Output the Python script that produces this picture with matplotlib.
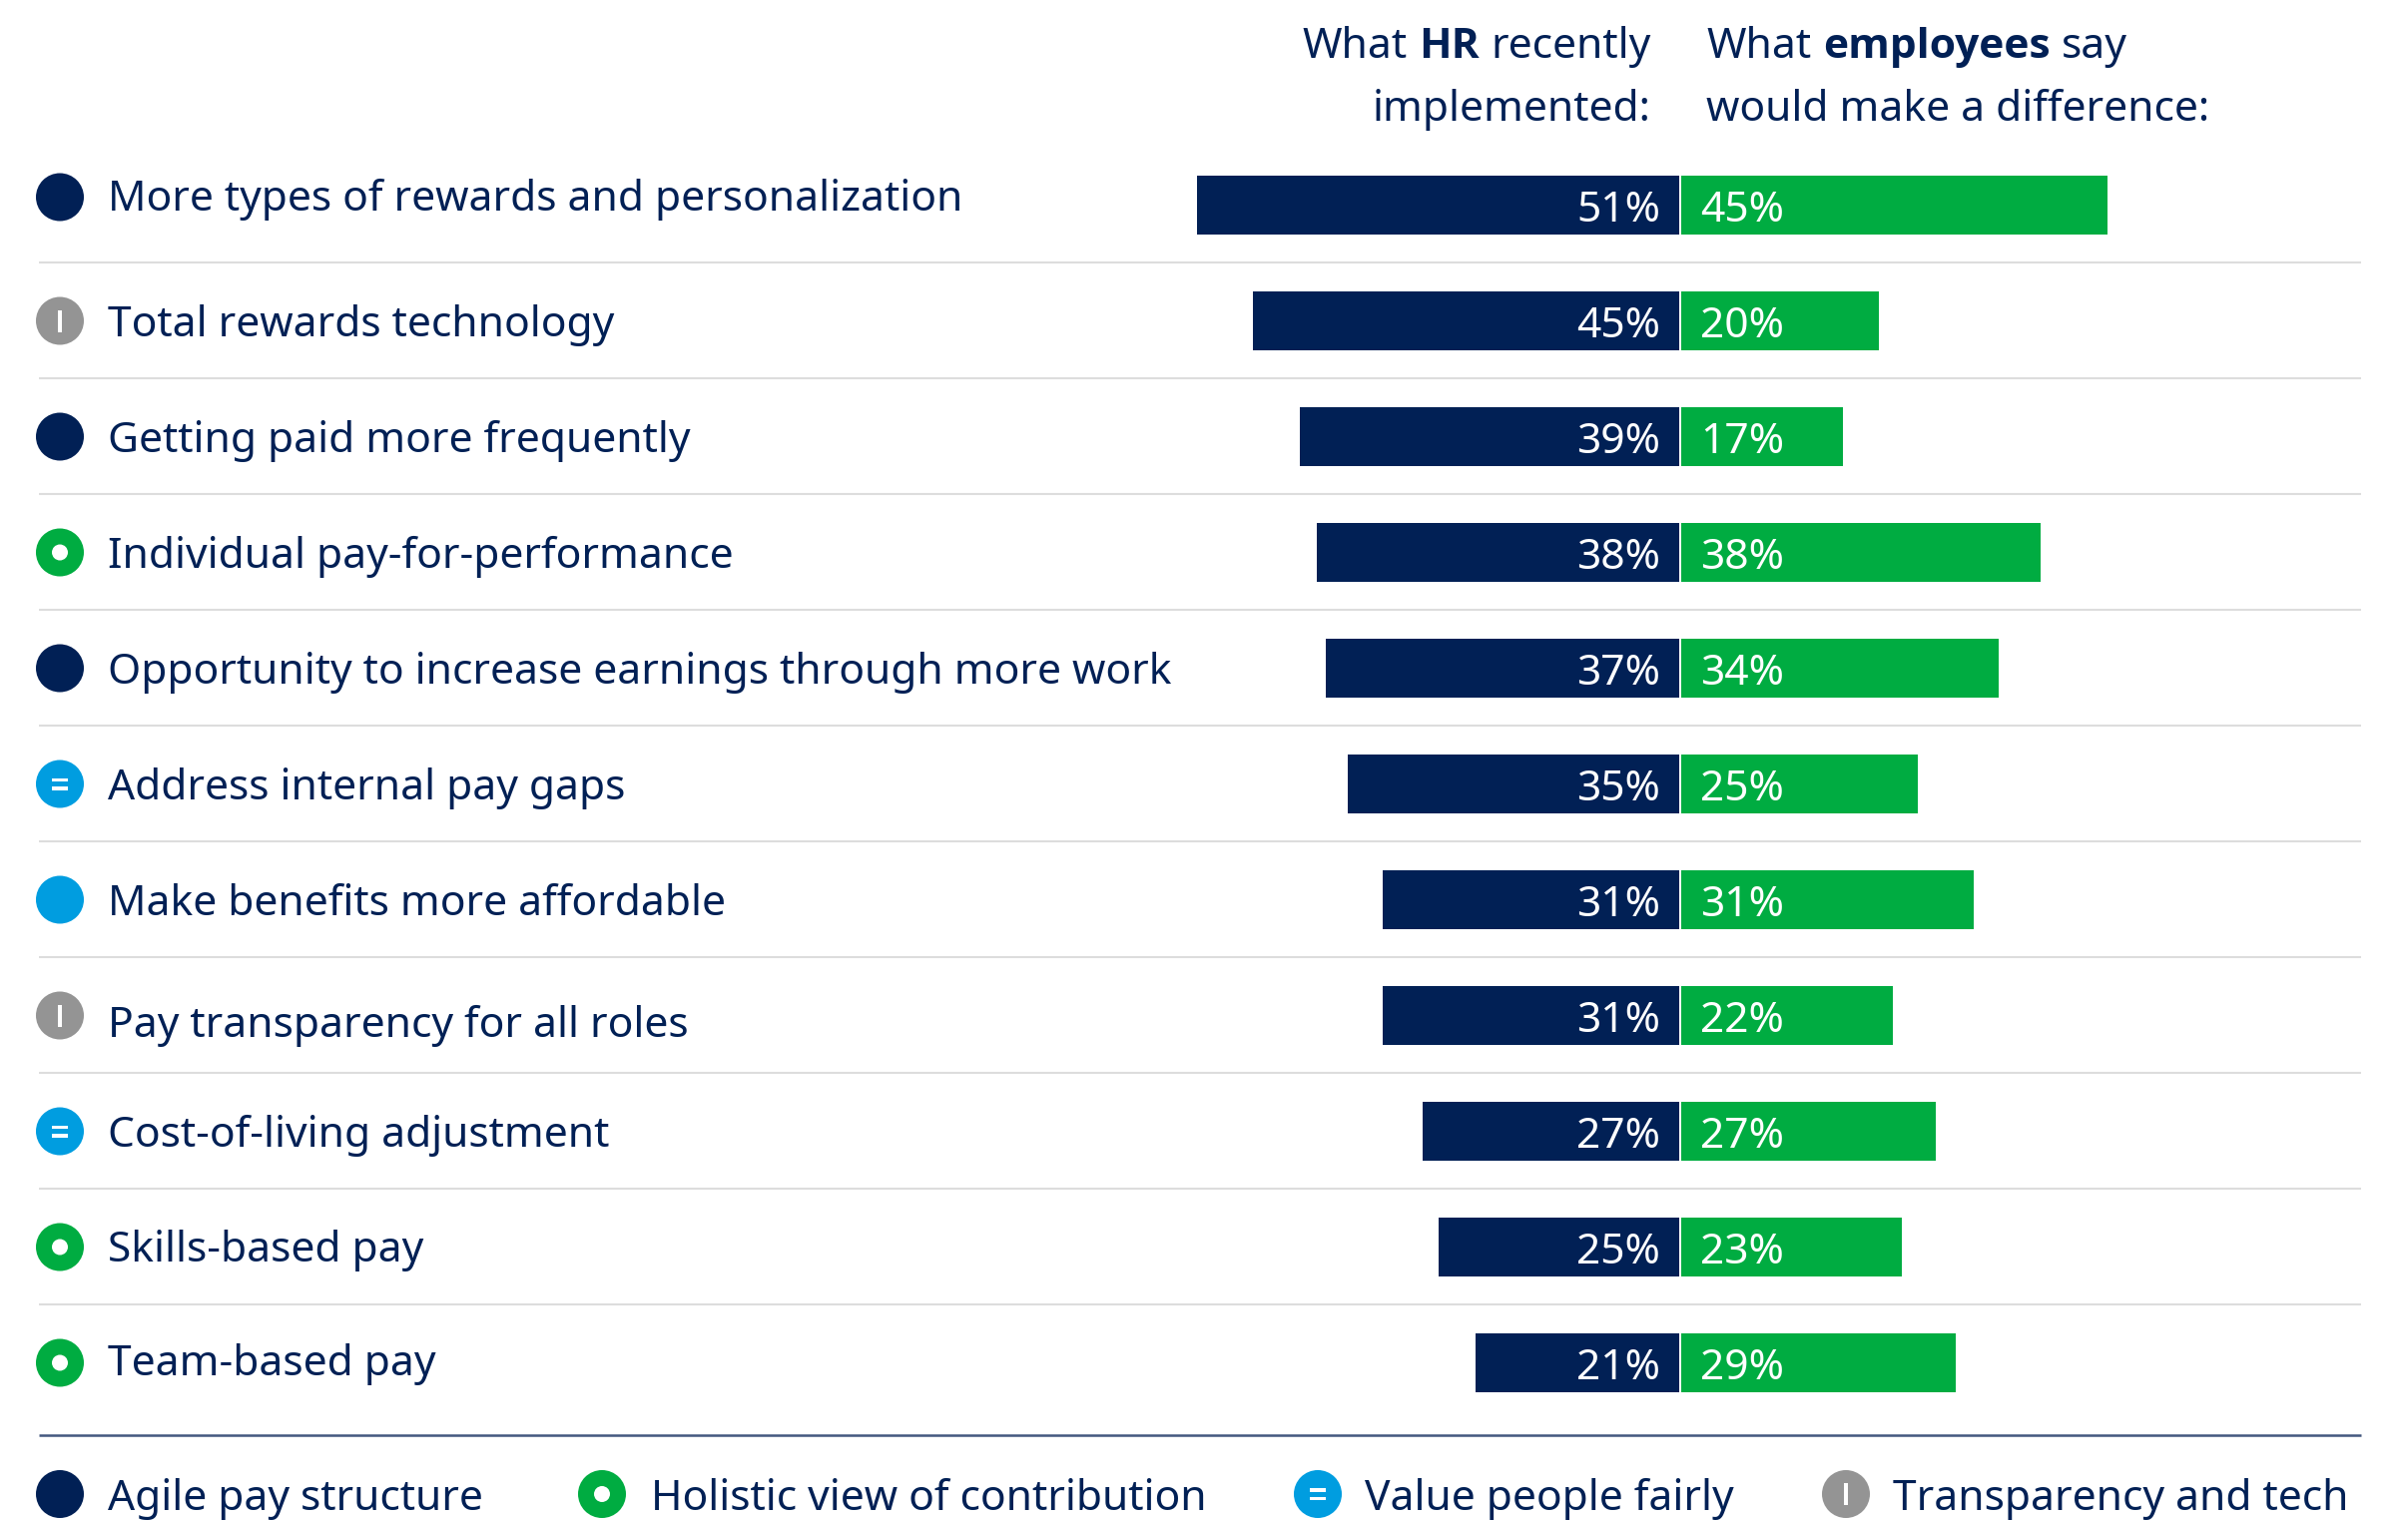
import matplotlib
matplotlib.use("Agg")
import matplotlib.pyplot as plt
from matplotlib.patches import Circle, Rectangle

labels = ["More types of rewards and personalization", "Total rewards technology",
          "Getting paid more frequently", "Individual pay-for-performance",
          "Opportunity to increase earnings through more work", "Address internal pay gaps",
          "Make benefits more affordable", "Pay transparency for all roles",
          "Cost-of-living adjustment", "Skills-based pay", "Team-based pay"]
hr_labels = [51, 45, 39, 38, 37, 35, 31, 31, 27, 25, 21]
employee_labels = [45, 20, 17, 38, 34, 25, 31, 22, 27, 23, 29]
# bar lengths as measured, they do not always agree with the printed number
hr_bars = [51, 45, 40.1, 38.3, 37.4, 35, 31.3, 31.3, 27.1, 25.4, 21.5]
employee_bars = [45, 20.9, 17.05, 38, 33.5, 25, 30.9, 22.4, 26.9, 23.3, 29]
row_groups = ["agile", "trans", "agile", "holistic", "agile", "fair", "fair_plain", "trans", "fair", "holistic", "holistic"]
legend_names = ["Agile pay structure", "Holistic view of contribution", "Value people fairly", "Transparency and tech"]
legend_groups = ["agile", "holistic", "fair", "trans"]

NAVY = "#012055"
GREEN = "#00AC41"
BLUE = "#009DE0"
GREY = "#949494"
FS = 30.6
group_colors = {"agile": NAVY, "holistic": GREEN, "fair": BLUE, "fair_plain": BLUE, "trans": GREY}

plt.rcParams["font.family"] = ["Noto Sans", "DejaVu Sans"]

W, H = 2412, 1523
fig = plt.figure(figsize=(W / 100, H / 100), dpi=100)

# pixel axes for text, icons and rules
ax = fig.add_axes([0, 0, 1, 1])
ax.set_xlim(0, W)
ax.set_ylim(H, 0)
ax.axis("off")

# bar axes: x in percent around the centre line, y in rows
CX, PX_PER = 1683, 9.48
Y0, ROW = 205.5, 116
bx = fig.add_axes([0, 0, 1, 1], facecolor="none")
bx.set_xlim(-CX / PX_PER, (W - CX) / PX_PER)
bx.set_ylim((H - Y0) / ROW, -Y0 / ROW)
bx.axis("off")

rows = list(range(len(labels)))
bx.barh(rows, [-v for v in hr_bars], left=-0.1, height=59 / ROW, color=NAVY, linewidth=0)
bx.barh(rows, employee_bars, left=0.1, height=59 / ROW, color=GREEN, linewidth=0)


def icon(x, y, group):
    ax.add_patch(Circle((x, y), 24, color=group_colors[group], lw=0))
    if group == "holistic":
        ax.add_patch(Circle((x, y), 8, color="white", lw=0))
    elif group == "fair":
        ax.add_patch(Rectangle((x - 8, y - 6), 16, 3.5, color="white", lw=0))
        ax.add_patch(Rectangle((x - 8, y + 2.5), 16, 3.5, color="white", lw=0))
    elif group == "trans":
        ax.add_patch(Rectangle((x - 1.7, y - 11), 3.4, 22, color="white", lw=0))


# the labels and icons do not all sit on the row centre
label_nudge = {0: -10, 7: 6, 10: -2}
icon_nudge = {0: -8}

for i in rows:
    py = Y0 + i * ROW
    icon(60, py + icon_nudge.get(i, 0), row_groups[i])
    ax.text(108, py - 1 + label_nudge.get(i, 0), labels[i], color=NAVY, fontsize=FS, va="center_baseline")
    bx.text(-0.1 - 19 / PX_PER, i, f"{hr_labels[i]}%", color="white", fontsize=FS, ha="right", va="center_baseline")
    bx.text(0.1 + 19 / PX_PER, i, f"{employee_labels[i]}%", color="white", fontsize=FS, ha="left", va="center_baseline")
    if i < len(labels) - 1:
        ax.plot([39, 2365], [py + 57.5, py + 57.5], color="#DDDDDD", lw=1.5, solid_capstyle="butt")

ax.plot([39, 2365], [1438, 1438], color="#44587F", lw=1.8, solid_capstyle="butt")

# legend
legend_icon_x = [60, 603, 1320, 1849]
legend_text_x = [108, 652, 1367, 1896]
for name, grp, ix, tx in zip(legend_names, legend_groups, legend_icon_x, legend_text_x):
    icon(ix, 1497, grp)
    ax.text(tx, 1497, name, color=NAVY, fontsize=FS, va="center_baseline")


# headers with a bold word in the middle of the line
def mixed(parts, x, y, align):
    fig.canvas.draw()
    r = fig.canvas.get_renderer()
    drawn = []
    cur = x
    for n, (s, bold) in enumerate(parts):
        t = ax.text(cur, y, s, color=NAVY, fontsize=FS, va="baseline", ha="left",
                    family="Open Sans" if bold else "Noto Sans", fontweight="bold" if bold else "normal")
        wd = t.get_window_extent(r).width
        drawn.append(t)
        cur += wd + (11.5 if n < len(parts) - 1 else 0)
    if align == "right":
        shift = cur - x
        for t in drawn:
            t.set_x(t.get_position()[0] - shift)


mixed([("What", False), ("HR", True), ("recently", False)], 1654, 58, "right")
ax.text(1654, 121, "implemented:", color=NAVY, fontsize=FS, ha="right", va="baseline")
mixed([("What", False), ("employees", True), ("say", False)], 1709, 58, "left")
ax.text(1709, 121, "would make a difference:", color=NAVY, fontsize=FS, ha="left", va="baseline")

fig.savefig("out.png", dpi=100, facecolor="white")
